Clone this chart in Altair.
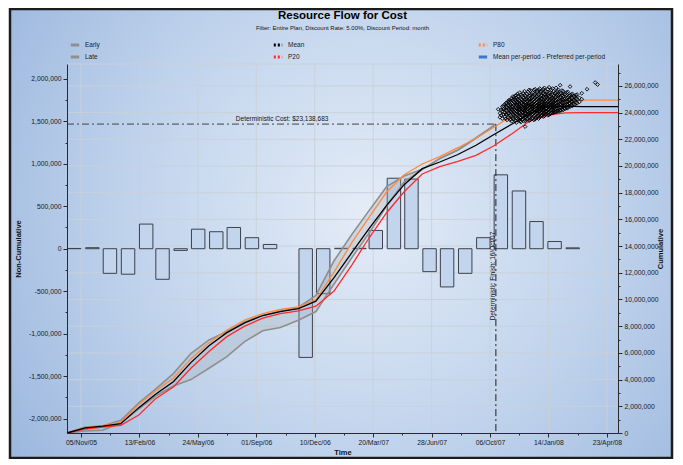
import altair as alt
import pandas as pd


def ms(d):
    return int(pd.Timestamp(d).value // 1_000_000)


# ---------------- tick labels / domains ----------------
x_label_dates = ["2005-11-05", "2006-02-13", "2006-05-24", "2006-09-01", "2006-12-10",
                 "2007-03-20", "2007-06-28", "2007-10-06", "2008-01-14", "2008-04-23"]
x_domain_dates = ["2005-10-12", "2008-05-12"]
left_domain = [-2170000, 2175000]
right_domain = [0, 27640000]
left_ticks = list(range(-2000000, 2000001, 250000))
right_ticks = list(range(0, 27000001, 1000000))
right_grid = list(range(2000000, 26000001, 2000000))

# ---------------- per-period (non-cumulative) bars, millions ----------------
period_first = "2005-10-10"
period_values_m = [0.003, 0.012, -0.29, -0.30, 0.29, -0.36, -0.02, 0.23, 0.20, 0.25,
                   0.13, 0.05, 0.0, -1.28, -0.53, 0.005, 0.005, 0.215, 0.83, 0.82,
                   -0.27, -0.45, -0.29, 0.13, 0.87, 0.68, 0.32, 0.085, 0.01]

# ---------------- cumulative curves, millions, monthly from 12 Oct 2005 ----------------
curve_first = "2005-10-12"
mean_m = [0.0, 0.38, 0.52, 0.70, 1.90, 2.88, 3.84, 5.27, 6.53, 7.50, 8.25, 8.80, 9.09,
          9.32, 9.88, 11.63, 13.54, 15.25, 17.05, 18.60, 19.80, 20.30, 20.86, 21.55,
          22.34, 23.13, 23.88, 24.44, 24.48, 24.45, 24.45, 24.45]
p20_m = [0.0, 0.30, 0.45, 0.58, 1.35, 2.55, 3.45, 4.85, 6.10, 7.20, 8.00, 8.60, 8.95,
         9.15, 9.50, 10.63, 12.62, 14.55, 16.50, 18.07, 19.40, 19.95, 20.34, 20.80,
         21.50, 22.40, 23.35, 23.82, 23.98, 24.00, 24.00, 24.00]
p80_m = [0.0, 0.40, 0.56, 0.80, 2.15, 3.15, 4.10, 5.55, 6.75, 7.70, 8.45, 8.95, 9.25,
         9.45, 10.00, 12.05, 14.30, 16.10, 18.05, 19.34, 20.15, 20.70, 21.37, 22.08,
         22.88, 23.74, 24.49, 24.80, 24.92, 24.94, 24.94, 24.94]
# Early / Late: 25 monthly values, then the deterministic finish point
early_m = [0.0, 0.45, 0.52, 0.95, 2.25, 3.27, 4.45, 5.95, 6.97, 7.59, 8.32, 8.80, 9.14,
           9.40, 10.30, 12.90, 14.90, 16.60, 18.45, 19.25, 19.75, 20.55, 21.20, 22.10,
           23.00, 23.14]
late_m = [0.0, 0.15, 0.20, 0.75, 1.80, 2.75, 3.52, 4.00, 4.85, 5.70, 6.85, 7.66, 7.90,
          8.45, 9.10, 11.16, 13.17, 14.90, 17.00, 18.80, 19.75, 20.55, 21.20, 22.10,
          23.00, 23.14]

det_finish = "2007-10-16"
det_cost = 23138683
det_cost_label = "Deterministic Cost: $23,138,683"
det_finish_label = "Deterministic Finish: 16/Oct/07"
cost_label_date = "2006-07-28"
finish_label_value_m = 8.45

# ---------------- simulated finish/cost points (millions) ----------------
scatter_cols = {
    "2007-10-20": [24.25],
    "2007-10-23": [23.65, 23.95],
    "2007-10-25": [23.8, 24.2],
    "2007-10-27": [23.55, 24.1, 24.45],
    "2007-10-29": [23.85, 24.25, 24.5],
    "2007-10-31": [23.7, 24.0, 24.3, 24.6],
    "2007-11-02": [23.55, 23.9, 24.2, 24.5, 24.7],
    "2007-11-04": [23.45, 23.85, 24.15, 24.4, 24.75],
    "2007-11-06": [23.65, 23.95, 24.3, 24.55, 24.85],
    "2007-11-08": [23.6, 23.95, 24.2, 24.5, 24.8, 24.95],
    "2007-11-10": [23.45, 23.8, 24.1, 24.35, 24.6, 24.9],
    "2007-11-12": [23.35, 23.7, 24.0, 24.25, 24.45, 24.7, 25.05],
    "2007-11-14": [23.6, 23.9, 24.15, 24.4, 24.65, 24.95, 25.2],
    "2007-11-16": [23.5, 23.8, 24.05, 24.3, 24.55, 24.8, 25.15],
    "2007-11-18": [23.4, 23.7, 23.95, 24.2, 24.45, 24.7, 24.95, 25.25],
    "2007-11-20": [23.25, 23.6, 23.9, 24.15, 24.35, 24.6, 24.85, 25.1, 25.3],
    "2007-11-22": [23.55, 23.85, 24.1, 24.3, 24.55, 24.75, 25.0, 25.4],
    "2007-11-24": [23.45, 23.75, 24.0, 24.2, 24.45, 24.65, 24.9, 25.2],
    "2007-11-26": [23.35, 23.65, 23.95, 24.25, 24.4, 24.6, 24.85, 25.1, 25.5],
    "2007-11-28": [23.3, 23.6, 23.85, 24.1, 24.3, 24.5, 24.75, 25.0, 25.35],
    "2007-11-30": [23.45, 23.75, 24.05, 24.2, 24.45, 24.7, 24.95, 25.25],
    "2007-12-02": [23.5, 23.8, 24.0, 24.25, 24.4, 24.6, 24.85, 25.1, 25.45],
    "2007-12-04": [23.35, 23.65, 23.9, 24.1, 24.3, 24.5, 24.75, 25.0, 25.3, 25.6],
    "2007-12-05": [22.95],
    "2007-12-06": [23.4, 23.7, 23.95, 24.15, 24.35, 24.55, 24.7, 24.95, 25.25],
    "2007-12-08": [23.5, 23.8, 24.1, 24.25, 24.45, 24.6, 24.85, 25.05, 25.4],
    "2007-12-10": [23.55, 23.85, 24.05, 24.3, 24.5, 24.65, 24.9, 25.15, 25.55],
    "2007-12-12": [23.4, 23.65, 23.95, 24.15, 24.35, 24.55, 24.75, 25.0, 25.25, 25.7],
    "2007-12-14": [23.45, 23.75, 24.0, 24.2, 24.4, 24.6, 24.8, 25.05, 25.3, 25.65],
    "2007-12-16": [23.55, 23.85, 24.05, 24.25, 24.45, 24.65, 24.9, 25.1, 25.4],
    "2007-12-18": [23.6, 23.9, 24.1, 24.3, 24.5, 24.7, 24.95, 25.2, 25.5],
    "2007-12-20": [23.45, 23.75, 24.0, 24.2, 24.4, 24.6, 24.8, 25.0, 25.3, 25.7],
    "2007-12-22": [23.5, 23.8, 24.05, 24.25, 24.45, 24.65, 24.85, 25.1, 25.4, 25.75],
    "2007-12-24": [23.6, 23.85, 24.1, 24.3, 24.5, 24.7, 24.95, 25.2, 25.5],
    "2007-12-26": [23.7, 23.95, 24.15, 24.35, 24.55, 24.75, 25.0, 25.25, 25.6],
    "2007-12-28": [23.55, 23.8, 24.05, 24.25, 24.45, 24.65, 24.85, 25.05, 25.35, 25.7],
    "2007-12-30": [23.65, 23.9, 24.1, 24.3, 24.5, 24.7, 24.9, 25.15, 25.45, 25.8],
    "2008-01-01": [23.75, 24.0, 24.2, 24.4, 24.55, 24.75, 25.0, 25.25, 25.55],
    "2008-01-03": [23.8, 24.05, 24.25, 24.45, 24.6, 24.8, 25.05, 25.3, 25.65],
    "2008-01-05": [23.7, 23.95, 24.15, 24.35, 24.5, 24.7, 24.95, 25.2, 25.45, 25.75],
    "2008-01-07": [23.75, 24.0, 24.2, 24.4, 24.6, 24.85, 25.1, 25.4, 25.85],
    "2008-01-09": [23.85, 24.1, 24.3, 24.5, 24.65, 24.9, 25.15, 25.35, 25.6],
    "2008-01-11": [23.9, 24.1, 24.3, 24.5, 24.7, 24.95, 25.2, 25.55],
    "2008-01-13": [23.8, 24.0, 24.2, 24.4, 24.6, 24.8, 25.05, 25.3, 25.75],
    "2008-01-15": [23.85, 24.05, 24.25, 24.45, 24.65, 24.9, 25.15, 25.45, 25.9],
    "2008-01-17": [23.9, 24.15, 24.35, 24.55, 24.75, 24.95, 25.2, 25.5],
    "2008-01-19": [23.95, 24.2, 24.4, 24.6, 24.8, 25.05, 25.35, 25.7],
    "2008-01-21": [24.0, 24.25, 24.45, 24.65, 24.85, 25.1, 25.4, 25.8],
    "2008-01-23": [24.0, 24.15, 24.35, 24.55, 24.75, 25.0, 25.25, 25.6],
    "2008-01-25": [24.05, 24.25, 24.45, 24.65, 24.9, 25.15, 25.45],
    "2008-01-27": [24.05, 24.3, 24.5, 24.7, 24.95, 25.2, 25.5, 25.85],
    "2008-01-29": [24.1, 24.3, 24.55, 24.75, 25.0, 25.3, 25.6],
    "2008-01-31": [24.1, 24.35, 24.55, 24.8, 25.05, 25.35, 25.7],
    "2008-02-02": [24.15, 24.4, 24.6, 24.85, 25.1, 25.4],
    "2008-02-03": [26.05],
    "2008-02-04": [24.15, 24.4, 24.65, 24.9, 25.15, 25.45],
    "2008-02-06": [24.25, 24.5, 24.75, 25.0, 25.3, 25.65],
    "2008-02-08": [24.2, 24.45, 24.7, 24.95, 25.25, 25.6],
    "2008-02-10": [24.3, 24.5, 24.75, 25.0, 25.35],
    "2008-02-12": [24.3, 24.55, 24.8, 25.05, 25.4],
    "2008-02-14": [24.35, 24.6, 24.85, 25.1, 25.5],
    "2008-02-16": [24.35, 24.6, 24.85, 25.15, 25.55],
    "2008-02-18": [24.45, 24.7, 24.95, 25.25],
    "2008-02-20": [24.45, 24.7, 24.95, 25.3, 25.95],
    "2008-02-22": [24.55, 24.8, 25.05, 25.35],
    "2008-02-24": [24.5, 24.8, 25.1, 25.4],
    "2008-02-26": [24.65, 24.95, 25.25],
    "2008-02-28": [24.6, 24.9, 25.2],
    "2008-03-01": [24.75, 25.05, 25.3],
    "2008-03-03": [24.7, 25.0, 25.35],
    "2008-03-07": [24.8, 25.1],
    "2008-03-11": [25.0, 25.45],
    "2008-03-20": [25.75],
    "2008-04-03": [26.25],
    "2008-04-07": [26.1],
}

legend_order = ["Early", "Late", "Mean", "P20", "P80", "Mean per-period - Preferred per-period"]
legend_colors = ["#8f8f8f", "#8f8f8f", "#000000", "#ff2a2a", "#ff8a3d", "#3f78c8"]
legend_dashes = [[1, 0], [1, 0], [2, 2], [2, 2], [2, 2], [1, 0]]

# ---------------- tables ----------------
bar_rows = []
for k, v in enumerate(period_values_m):
    if v == 0:
        continue
    s = pd.Timestamp(period_first) + pd.DateOffset(months=k)
    bar_rows.append({"start": ms(s + pd.Timedelta(days=3)),
                     "end": ms(s + pd.Timedelta(days=26)),
                     "value": v * 1e6, "zero": 0.0})
bar_df = pd.DataFrame(bar_rows)

curve_dates = [ms(pd.Timestamp(curve_first) + pd.DateOffset(months=k)) for k in range(len(mean_m))]
el_dates = curve_dates[:len(early_m) - 1] + [ms(det_finish)]

p_rows = []
for name, vals in [("P80", p80_m), ("P20", p20_m), ("Mean", mean_m)]:
    for d, v in zip(curve_dates, vals):
        p_rows.append({"d": d, "v": v * 1e6, "series": name})
p_df = pd.DataFrame(p_rows)

el_rows = []
for name, vals in [("Early", early_m), ("Late", late_m)]:
    for d, v in zip(el_dates, vals):
        el_rows.append({"d": d, "v": v * 1e6, "series": name})
el_df = pd.DataFrame(el_rows)

band_df = pd.DataFrame({"d": el_dates, "early": [v * 1e6 for v in early_m],
                        "late": [v * 1e6 for v in late_m]})

dummy_df = pd.DataFrame({"d": [curve_dates[0]] * len(legend_order), "v": [0.0] * len(legend_order),
                         "series": legend_order})

sc_rows = []
for d, vals in scatter_cols.items():
    for v in vals:
        sc_rows.append({"d": ms(d), "v": v * 1e6})
sc_df = pd.DataFrame(sc_rows)

rule_df = pd.DataFrame([{"x0": curve_dates[0], "x1": ms(det_finish), "cost": det_cost, "zero": 0,
                         "tx": ms(cost_label_date), "fy": finish_label_value_m * 1e6,
                         "clabel": det_cost_label, "flabel": det_finish_label}])

# ---------------- scales / axes ----------------
W, H = 551, 369
FONT = "Liberation Sans"

xscale = alt.Scale(type="utc", domain=[ms(d) for d in x_domain_dates], nice=False)
T0 = ms(x_label_dates[0])
P100 = 100 * 86400000
xmajor = f"((+datum.value) - {T0}) % {P100} === 0"
x_vals = sorted([ms(d) for d in x_label_dates] +
                [ms(pd.Timestamp(d) + pd.Timedelta(days=50)) for d in x_label_dates[:-1]])

common_axis = dict(zindex=1, grid=False, domainColor="#2a2a2a", tickColor="#2a2a2a",
                   labelColor="#1a1a1a", labelFont=FONT, titleFont=FONT, labelFontSize=6.8,
                   titleFontSize=7.5, titleFontWeight="bold", titleColor="#111",
                   labelOverlap=False, labelFlush=False)

xaxis = alt.Axis(values=x_vals, title="Time",
                 labelExpr=f"{xmajor} ? utcFormat(datum.value, '%d/%b/%y') : ''",
                 tickSize={"condition": {"test": xmajor, "value": 4}, "value": 2},
                 labelPadding=2, titlePadding=3, **common_axis)

lmajor = "datum.value % 500000 === 0"
laxis = alt.Axis(orient="left", values=left_ticks, title="Non-Cumulative",
                 labelExpr=f"{lmajor} ? (datum.value < 0 ? '-' : '') + format(abs(datum.value), ',') : ''",
                 tickSize={"condition": {"test": lmajor, "value": 4}, "value": 2},
                 labelPadding=2, titlePadding=6, **common_axis)

rmajor = "datum.value % 2000000 === 0"
raxis = alt.Axis(orient="right", values=right_ticks, title="Cumulative", titleAngle=270,
                 labelExpr=f"{rmajor} ? format(datum.value, ',') : ''",
                 tickSize={"condition": {"test": rmajor, "value": 4}, "value": 2},
                 labelPadding=2, titlePadding=6, **common_axis)

lscale = alt.Scale(domain=left_domain, nice=False, zero=False)
rscale = alt.Scale(domain=right_domain, nice=False, zero=False)


def X(field):
    return alt.X(field, type="temporal", scale=xscale, axis=xaxis)


def YR(field):
    return alt.Y(field, type="quantitative", scale=rscale, axis=raxis)


leg = alt.Legend(title=None, orient="none", legendX=2, legendY=-25, columns=3,
                 columnPadding=167, rowPadding=0, symbolType="stroke", symbolStrokeWidth=3,
                 symbolSize=70, labelFontSize=6.5, labelColor="#1a1a1a", labelFont=FONT,
                 labelLimit=300, labelOffset=4, padding=0)
color_enc = alt.Color("series:N", scale=alt.Scale(domain=legend_order, range=legend_colors), legend=leg)
dash_enc = alt.StrokeDash("series:N", scale=alt.Scale(domain=legend_order, range=legend_dashes), legend=leg)

# ---------------- layers ----------------
gradient = {"gradient": "radial", "x1": 0.54, "y1": 0.47, "r1": 0.0, "x2": 0.54, "y2": 0.47, "r2": 0.72,
            "stops": [{"offset": 0.0, "color": "#e4ecf7"}, {"offset": 0.5, "color": "#c0d3ec"},
                      {"offset": 1.0, "color": "#94b1db"}]}
bg = alt.Chart(pd.DataFrame({"k": [0]})).mark_rect(fill=gradient, stroke="#1c1c1c", strokeWidth=2.5).encode(
    x=alt.value(-57), x2=alt.value(W + 54), y=alt.value(-55), y2=alt.value(H + 25))

gv = alt.Chart(pd.DataFrame({"d": [ms(d) for d in x_label_dates]})).mark_rule(
    color="#cbd0d7", strokeWidth=1, opacity=0.9).encode(x=X("d"), y=alt.value(0), y2=alt.value(H))

gh = alt.Chart(pd.DataFrame({"v": right_grid + [right_domain[1]]})).mark_rule(
    color="#cbd0d7", strokeWidth=1, opacity=0.9).encode(
    y=alt.Y("v:Q", scale=rscale, axis=None), x=alt.value(0), x2=alt.value(W))

bars = alt.Chart(bar_df).mark_bar(fill="#c3d4ed", stroke="#3b424e", strokeWidth=1).encode(
    x=X("start"), x2=alt.X2("end"),
    y=alt.Y("value:Q", scale=lscale, axis=laxis), y2=alt.Y2("zero"))

band = alt.Chart(band_df).mark_area(fill="#a3abb7", opacity=0.3).encode(
    x=X("d"), y=YR("early"), y2=alt.Y2("late"))

el_lines = alt.Chart(el_df).mark_line(strokeWidth=1.6).encode(x=X("d"), y=YR("v"), color=color_enc)

cost_rule = alt.Chart(rule_df).mark_rule(color="#444444", strokeWidth=1, strokeDash=[7, 3, 2, 3]).encode(
    x=X("x0"), x2=alt.X2("x1"), y=YR("cost"))
fin_rule = alt.Chart(rule_df).mark_rule(color="#1e1e1e", strokeWidth=1, strokeDash=[7, 3, 2, 3]).encode(
    x=X("x1"), y=YR("cost"), y2=alt.Y2("zero"))

p_lines = alt.Chart(p_df).mark_line(strokeWidth=1.3).encode(x=X("d"), y=YR("v"), color=color_enc)

dummy = alt.Chart(dummy_df).mark_line(strokeWidth=1).encode(
    x=X("d"), y=YR("v"), color=color_enc, strokeDash=dash_enc)

scatter = alt.Chart(sc_df).mark_point(shape="diamond", filled=False, size=14, strokeWidth=0.9,
                                      color="#000000", opacity=1).encode(x=X("d"), y=YR("v"))

cost_text = alt.Chart(rule_df).mark_text(align="left", baseline="bottom", dy=-2, fontSize=6.5,
                                         font=FONT, color="#111111").encode(
    x=X("tx"), y=YR("cost"), text="clabel:N")
fin_text = alt.Chart(rule_df).mark_text(align="left", baseline="bottom", angle=270, fontSize=6.5,
                                        font=FONT, color="#111111").encode(
    x=X("x1"), y=YR("fy"), text="flabel:N")

cum = alt.layer(band, el_lines, cost_rule, fin_rule, p_lines, dummy, scatter, cost_text, fin_text)

chart = alt.layer(bg, gv, gh, bars, cum).resolve_scale(y="independent").properties(
    width=W, height=H,
    padding={"left": 59, "top": 56, "right": 56, "bottom": 26},
    autosize=alt.AutoSizeParams(type="none"),
    background="white",
    title=alt.TitleParams(text="Resource Flow for Cost",
                          subtitle="Filter: Entire Plan, Discount Rate: 5.00%, Discount Period: month",
                          frame="group", anchor="middle", offset=-23, font=FONT, fontSize=11.5,
                          fontWeight="bold", color="#000000", subtitleFont=FONT, subtitleFontSize=6,
                          subtitleColor="#111111", subtitlePadding=3),
).configure(font=FONT).configure_view(stroke=None)

chart.save("out.html", embed_options={"renderer": "svg", "actions": False})
